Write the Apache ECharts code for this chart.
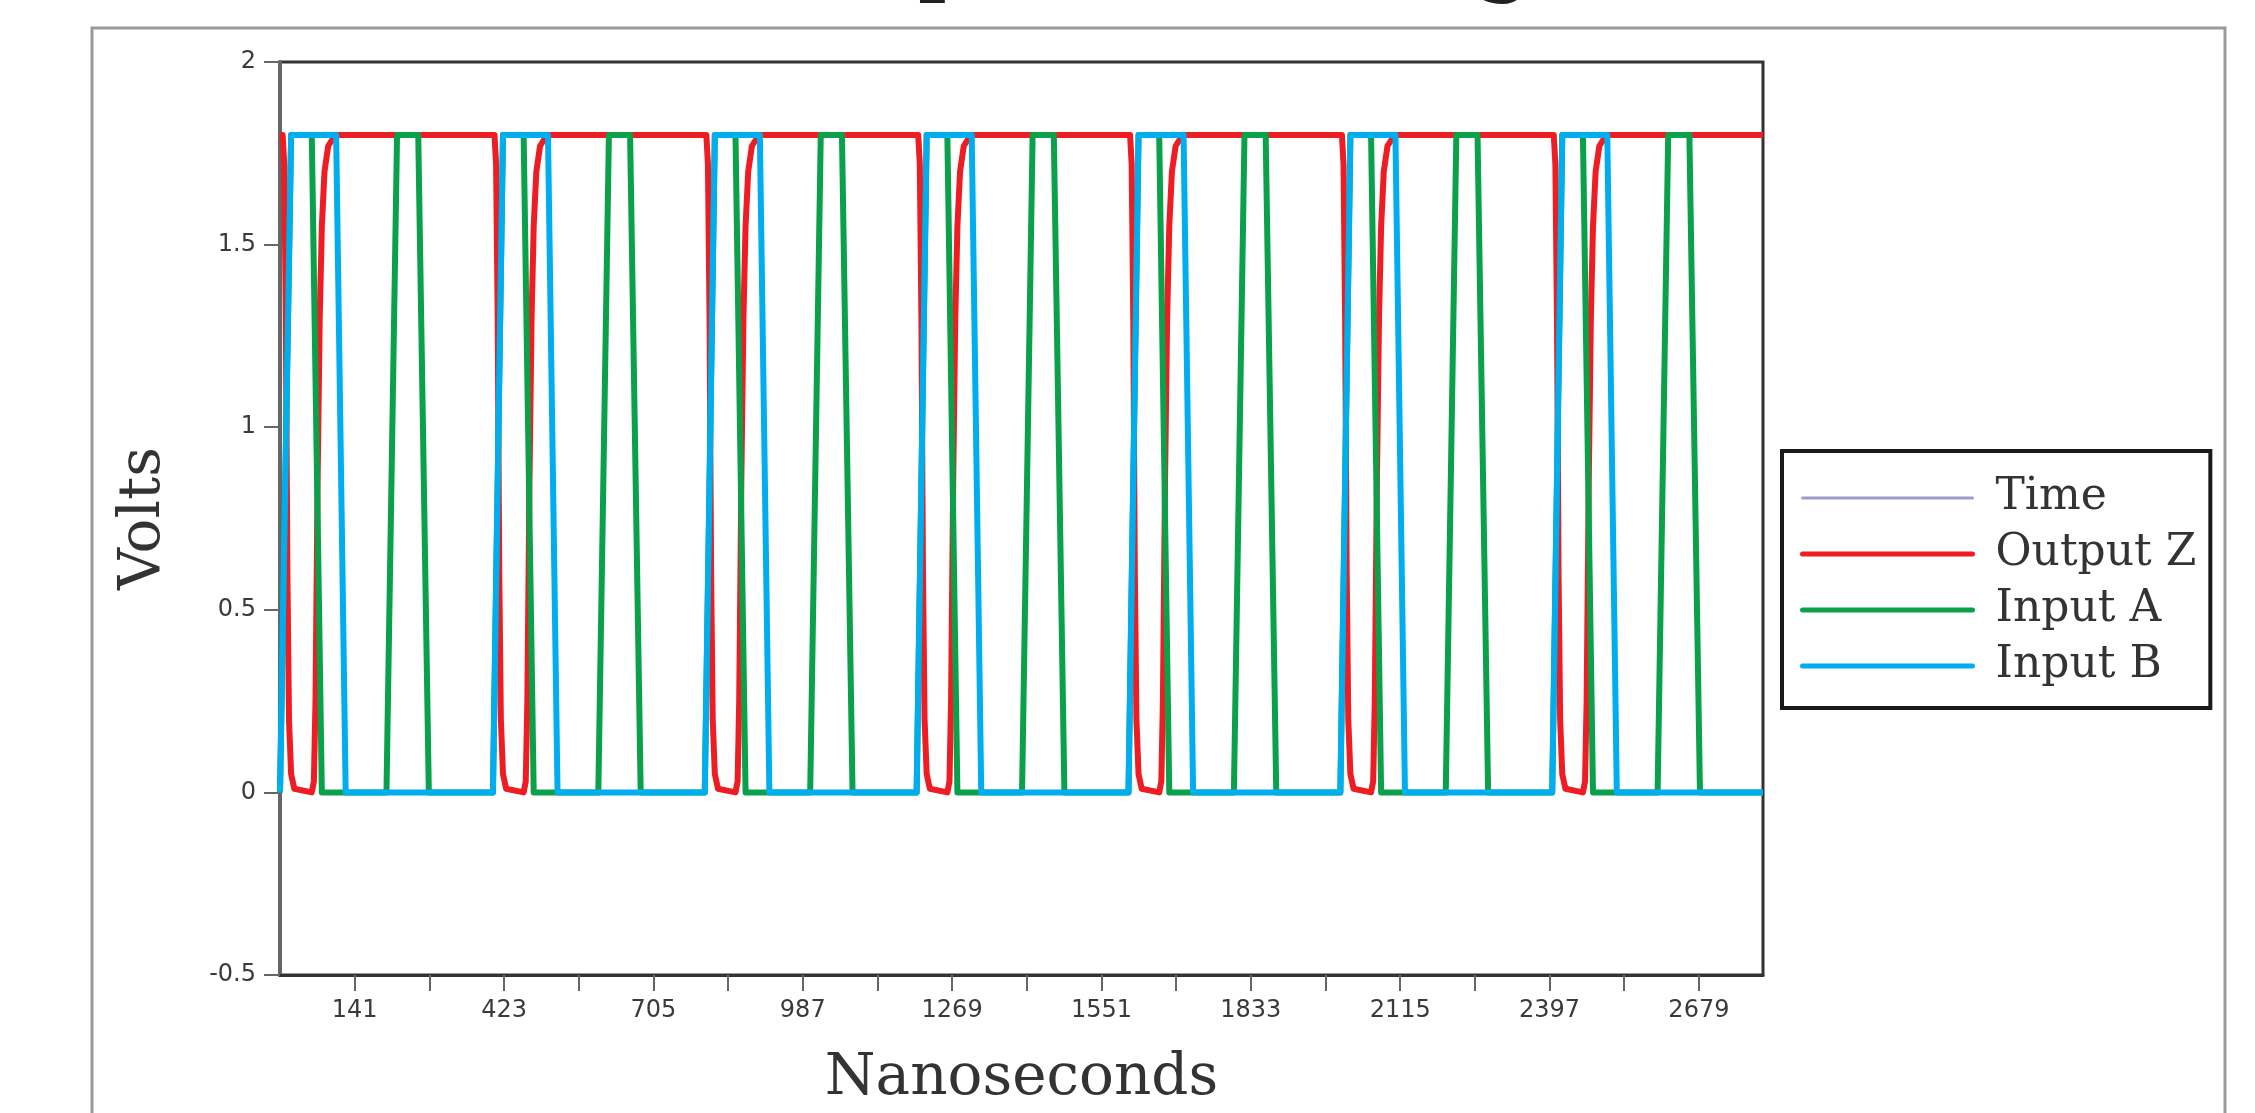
<!DOCTYPE html>
<html>
<head>
<meta charset="utf-8">
<script src="https://cdn.jsdelivr.net/npm/echarts@6/dist/echarts.min.js"></script>
<style>
html,body{margin:0;padding:0;background:#fff;}
#chart{width:2255px;height:1113px;}
</style>
</head>
<body>
<div id="chart"></div>
<script>
// ---- data ----
const titleText = 'Output Z, Voltage';
const xAxisTitle = 'Nanoseconds';
const yAxisTitle = 'Volts';
const seriesNames = ['Time', 'Output Z', 'Input A', 'Input B'];
const xMin = 0, xMax = 2800;
const yMin = -0.5, yMax = 2, yStep = 0.5;
// x tick marks and labelled ticks
const xTickValues = [141, 282, 423, 564, 705, 846, 987, 1128, 1269, 1410, 1551, 1692, 1833, 1974, 2115, 2256, 2397, 2538, 2679];
const xLabelValues = [141, 423, 705, 987, 1269, 1551, 1833, 2115, 2397, 2679];

// Time series appears only in the legend
const timeSeries = [];

// Output Z (NAND output) [ns, V]
const outputZ = [
  [0,1.8],[5,1.8],[8,1.72],[11,1.3],[14,0.6],[17,0.2],[21,0.05],[27,0.01],[60,0],[64,0.03],[67,0.25],[71,0.85],[75,1.3],[79,1.55],[84,1.7],[91,1.77],[104,1.8],
  [405,1.8],[408,1.72],[411,1.3],[414,0.6],[417,0.2],[421,0.05],[427,0.01],[460,0],[464,0.03],[467,0.25],[471,0.85],[475,1.3],[479,1.55],[484,1.7],[491,1.77],[504,1.8],
  [805,1.8],[808,1.72],[811,1.3],[814,0.6],[817,0.2],[821,0.05],[827,0.01],[860,0],[864,0.03],[867,0.25],[871,0.85],[875,1.3],[879,1.55],[884,1.7],[891,1.77],[904,1.8],
  [1205,1.8],[1208,1.72],[1211,1.3],[1214,0.6],[1217,0.2],[1221,0.05],[1227,0.01],[1260,0],[1264,0.03],[1267,0.25],[1271,0.85],[1275,1.3],[1279,1.55],[1284,1.7],[1291,1.77],[1304,1.8],
  [1605,1.8],[1608,1.72],[1611,1.3],[1614,0.6],[1617,0.2],[1621,0.05],[1627,0.01],[1660,0],[1664,0.03],[1667,0.25],[1671,0.85],[1675,1.3],[1679,1.55],[1684,1.7],[1691,1.77],[1704,1.8],
  [2005,1.8],[2008,1.72],[2011,1.3],[2014,0.6],[2017,0.2],[2021,0.05],[2027,0.01],[2060,0],[2064,0.03],[2067,0.25],[2071,0.85],[2075,1.3],[2079,1.55],[2084,1.7],[2091,1.77],[2104,1.8],
  [2405,1.8],[2408,1.72],[2411,1.3],[2414,0.6],[2417,0.2],[2421,0.05],[2427,0.01],[2460,0],[2464,0.03],[2467,0.25],[2471,0.85],[2475,1.3],[2479,1.55],[2484,1.7],[2491,1.77],[2504,1.8],
  [2800,1.8]
];

// Input A [ns, V]
const inputA = [
  [0,0],[2,0],[21,1.8],[60,1.8],[79,0],[201,0],[221,1.8],[261,1.8],[281,0],
  [402,0],[421,1.8],[460,1.8],[479,0],[601,0],[621,1.8],[661,1.8],[681,0],
  [802,0],[821,1.8],[860,1.8],[879,0],[1001,0],[1021,1.8],[1061,1.8],[1081,0],
  [1202,0],[1221,1.8],[1260,1.8],[1279,0],[1401,0],[1421,1.8],[1461,1.8],[1481,0],
  [1602,0],[1621,1.8],[1660,1.8],[1679,0],[1801,0],[1821,1.8],[1861,1.8],[1881,0],
  [2002,0],[2021,1.8],[2060,1.8],[2079,0],[2201,0],[2221,1.8],[2261,1.8],[2281,0],
  [2402,0],[2421,1.8],[2460,1.8],[2479,0],[2601,0],[2621,1.8],[2661,1.8],[2681,0],
  [2800,0]
];

// Input B [ns, V]
const inputB = [
  [0,0],[2,0],[21,1.8],[106,1.8],[124,0],
  [402,0],[421,1.8],[506,1.8],[524,0],
  [802,0],[821,1.8],[906,1.8],[924,0],
  [1202,0],[1221,1.8],[1306,1.8],[1324,0],
  [1602,0],[1621,1.8],[1706,1.8],[1724,0],
  [2002,0],[2021,1.8],[2106,1.8],[2124,0],
  [2402,0],[2421,1.8],[2506,1.8],[2524,0],
  [2800,0]
];

const seriesData = [timeSeries, outputZ, inputA, inputB];
const seriesColors = ['#9d9dcc', '#ee1d24', '#0ba14b', '#00aeef'];
const seriesWidths = [2, 6, 6, 6];
const legendLineWidths = [3, 5, 5, 5];

// ---- chart ----
const chart = echarts.init(document.getElementById('chart'), null, {renderer: 'canvas'});
const tickFont = {fontFamily: 'DejaVu Sans', fontSize: 24, color: '#3a3a3a'};

const option = {
  animation: false,
  backgroundColor: '#ffffff',
  title: {
    text: titleText,
    left: 740, top: -89, padding: 0,
    textStyle: {fontFamily: 'DejaVu Serif', fontSize: 95, fontWeight: 'normal', color: '#222'}
  },
  graphic: [{
    type: 'rect', z: -1, silent: true,
    shape: {x: 92, y: 28, width: 2133, height: 1200},
    style: {fill: 'none', stroke: '#9a9a9a', lineWidth: 3}
  }],
  grid: {
    left: 280, top: 62, right: 2255 - 1763, bottom: 1113 - 977,
    show: true, borderColor: '#333', borderWidth: 3, backgroundColor: '#fff'
  },
  legend: {
    orient: 'vertical', left: 1782, top: 451,
    data: seriesNames.map(function (n, i) {
      return {name: n, lineStyle: {width: legendLineWidths[i], color: seriesColors[i], cap: 'round'}};
    }),
    itemWidth: 170, itemHeight: 14, itemGap: 12,
    padding: [25, 14, 20, 18],
    itemStyle: {color: 'rgba(0,0,0,0)', borderWidth: 0, opacity: 0},
    lineStyle: {width: 'inherit'},
    borderColor: '#1a1a1a', borderWidth: 4, backgroundColor: '#fff',
    textStyle: {fontFamily: 'DejaVu Serif', fontSize: 44, color: '#333', lineHeight: 44, padding: [0, 0, 0, 18]}
  },
  xAxis: {
    type: 'value', min: xMin, max: xMax,
    name: xAxisTitle, nameLocation: 'middle', nameGap: 75,
    nameTextStyle: {fontFamily: 'DejaVu Serif', fontSize: 58, color: '#333'},
    axisLine: {show: true, onZero: false, lineStyle: {color: '#333', width: 3}},
    axisTick: {show: true, inside: false, length: 16, customValues: xTickValues, lineStyle: {color: '#666', width: 2}},
    axisLabel: {...tickFont, margin: 24, customValues: xLabelValues, formatter: function (v) { return String(v); }},
    splitLine: {show: false}
  },
  yAxis: {
    type: 'value', min: yMin, max: yMax, interval: yStep,
    name: yAxisTitle, nameLocation: 'middle', nameGap: 107, nameRotate: 90,
    nameTextStyle: {fontFamily: 'DejaVu Serif', fontSize: 58, color: '#333'},
    axisLine: {show: true, onZero: false, lineStyle: {color: '#666', width: 4}},
    axisTick: {show: true, inside: false, length: 16, lineStyle: {color: '#666', width: 2}},
    axisLabel: {...tickFont, margin: 24},
    splitLine: {show: false}
  },
  series: seriesNames.map(function (name, i) {
    return {
      name: name, type: 'line', data: seriesData[i],
      symbol: 'none', showSymbol: false, smooth: false,
      color: seriesColors[i],
      lineStyle: {color: seriesColors[i], width: seriesWidths[i], join: 'round'},
      z: 2 + i
    };
  })
};
chart.setOption(option);
</script>
</body>
</html>
